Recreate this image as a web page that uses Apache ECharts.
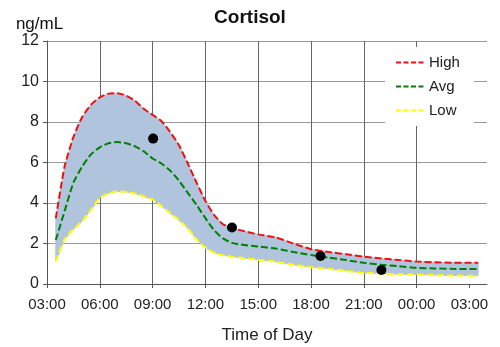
<!DOCTYPE html>
<html><head><meta charset="utf-8">
<script src="https://cdn.jsdelivr.net/npm/echarts@6/dist/echarts.min.js"></script>
<style>html,body{margin:0;padding:0;background:#fff}#c{width:500px;height:347px}</style>
</head><body><div id="c"></div>
<script>
var hours = [3.5,4,4.5,5,5.5,6,6.5,7,7.5,8,8.5,9,9.5,10,10.5,11,11.5,12,12.5,13,13.5,14,15,16,17,18,19,20,21,22,23,24,25,26,27,27.5];
var high = [3.24,5.8,7.25,8.25,8.85,9.22,9.4,9.42,9.3,9.05,8.65,8.35,8.05,7.5,6.85,5.95,5.0,4.1,3.4,2.95,2.78,2.65,2.45,2.3,2.0,1.72,1.58,1.47,1.35,1.26,1.18,1.11,1.07,1.05,1.05,1.05];
var avg = [2.17,3.6,5.0,5.8,6.4,6.75,6.95,7.01,6.95,6.8,6.55,6.2,5.95,5.6,5.1,4.5,3.9,3.25,2.65,2.25,2.03,1.95,1.85,1.75,1.58,1.43,1.3,1.18,1.05,0.95,0.88,0.8,0.77,0.75,0.74,0.74];
var low = [1.1,2.2,2.7,3.1,3.65,4.25,4.48,4.57,4.55,4.47,4.32,4.17,3.85,3.5,3.15,2.75,2.2,1.8,1.55,1.42,1.35,1.3,1.2,1.1,0.95,0.83,0.75,0.65,0.55,0.52,0.48,0.47,0.44,0.42,0.41,0.41];
var sampleHours = [9.03,13.51,18.54,22.0];
var sampleValues = [7.18,2.79,1.38,0.69];
var xTicks = [3,6,9,12,15,18,21,24,27];

function pairs(xs, ys){ return xs.map(function(x,i){ return [x, ys[i]]; }); }
function fmtHour(v){ var h = ((v % 24) + 24) % 24; return (h < 10 ? '0' : '') + h + ':00'; }

var FONT = 'Liberation Sans, Arial, sans-serif';
var SM = 0.2;
var DASH = [7, 3];
var chart = echarts.init(document.getElementById('c'));
chart.setOption({
  animation: false,
  backgroundColor: '#fff',
  title: { text: 'Cortisol', left: 'center', top: 3,
    textStyle: { fontFamily: FONT, fontSize: 19, fontWeight: 'bold', color: '#111' } },
  legend: {
    data: ['High','Avg','Low'], orient: 'vertical', left: 385, top: 47,
    backgroundColor: '#fff', padding: [8, 14, 8, 10], itemWidth: 28, itemHeight: 14, itemGap: 9,
    itemStyle: { opacity: 0 },
    lineStyle: { type: [5, 2.5], width: 2 },
    textStyle: { fontFamily: FONT, fontSize: 15, color: '#222' }
  },
  grid: { left: 47, right: 13, top: 41, bottom: 63, containLabel: false, outerBoundsMode: 'none' },
  xAxis: {
    type: 'value', min: 3, max: 28, interval: 3,
    name: 'Time of Day', nameLocation: 'middle', nameGap: 43,
    nameTextStyle: { fontFamily: FONT, fontSize: 17, color: '#222' },
    axisLine: { show: true, lineStyle: { color: '#555', width: 1 } },
    axisTick: { show: true, length: 4, customValues: xTicks, lineStyle: { color: '#555' } },
    axisLabel: { customValues: xTicks, formatter: fmtHour, margin: 13, fontFamily: FONT, fontSize: 15, color: '#222' },
    splitLine: { show: true, showMaxLine: false, lineStyle: { color: '#666', width: 1 } }
  },
  yAxis: {
    type: 'value', min: 0, max: 12, interval: 2,
    name: 'ng/mL', nameLocation: 'end', nameGap: 8,
    nameTextStyle: { fontFamily: FONT, fontSize: 17, color: '#111', align: 'center', padding: [0, 15, 0, 0] },
    axisLine: { show: true, lineStyle: { color: '#555', width: 1 } },
    axisTick: { show: true, length: 4, lineStyle: { color: '#555' } },
    axisLabel: { margin: 8, fontFamily: FONT, fontSize: 16, color: '#222' },
    splitLine: { show: true, lineStyle: { color: '#999', width: 1 } }
  },
  series: [
    { name: 'Band', type: 'custom', data: [0], z: 1, silent: true,
      renderItem: function(params, api){
        var pts = [];
        for (var i = 0; i < hours.length; i++) pts.push(api.coord([hours[i], high[i]]));
        for (var j = hours.length - 1; j >= 0; j--) pts.push(api.coord([hours[j], low[j]]));
        return { type: 'polygon', shape: { points: pts }, style: { fill: '#b0c4de', stroke: '#b0c4de', lineWidth: 1 } };
      } },
    { name: 'High', type: 'line', data: pairs(hours, high), smooth: SM, symbol: 'none', z: 4,
      lineStyle: { color: '#ee1111', width: 2, type: DASH }, itemStyle: { color: '#ee1111' } },
    { name: 'Avg', type: 'line', data: pairs(hours, avg), smooth: SM, symbol: 'none', z: 4,
      lineStyle: { color: '#008000', width: 2, type: DASH }, itemStyle: { color: '#008000' } },
    { name: 'Low', type: 'line', data: pairs(hours, low), smooth: SM, symbol: 'none', z: 4,
      lineStyle: { color: '#ffff00', width: 2, type: DASH }, itemStyle: { color: '#ffff00' } },
    { name: 'Samples', type: 'scatter', data: pairs(sampleHours, sampleValues), symbolSize: 10, z: 6,
      itemStyle: { color: '#000', opacity: 1 } }
  ]
});
</script></body></html>
